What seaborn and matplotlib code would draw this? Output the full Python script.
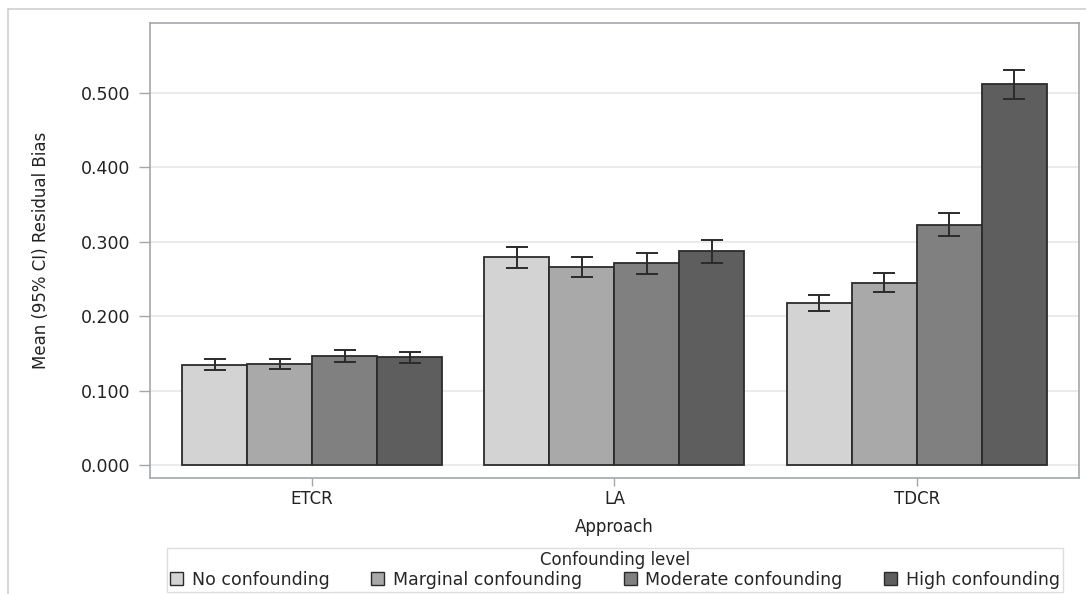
import numpy as np
import pandas as pd
import matplotlib
matplotlib.use('Agg')
import matplotlib.pyplot as plt
import seaborn as sns
from matplotlib.lines import Line2D

# ============================================
# data
# ============================================
APPROACHES = ['ETCR', 'LA', 'TDCR']
LEVELS = ['No confounding', 'Marginal confounding', 'Moderate confounding', 'High confounding']

MEAN_ETCR = [0.135, 0.136, 0.147, 0.145]
MEAN_LA = [0.279, 0.266, 0.271, 0.287]
MEAN_TDCR = [0.218, 0.245, 0.323, 0.512]

LOW_ETCR = [0.128, 0.129, 0.139, 0.137]
LOW_LA = [0.265, 0.253, 0.256, 0.271]
LOW_TDCR = [0.207, 0.232, 0.308, 0.492]

HIGH_ETCR = [0.142, 0.143, 0.154, 0.152]
HIGH_LA = [0.293, 0.280, 0.285, 0.302]
HIGH_TDCR = [0.229, 0.258, 0.338, 0.531]

YTICKS = [0.0, 0.1, 0.2, 0.3, 0.4, 0.5]

BAR_COLORS = ['#d3d3d3', '#a9a9a9', '#808080', '#5e5e5e']
EDGE = '#2b2b2b'
FRAME = '#a3a7ab'

rows = []
for app, means, lows, highs in zip(APPROACHES,
                                   [MEAN_ETCR, MEAN_LA, MEAN_TDCR],
                                   [LOW_ETCR, LOW_LA, LOW_TDCR],
                                   [HIGH_ETCR, HIGH_LA, HIGH_TDCR]):
    for lev, m, lo, hi in zip(LEVELS, means, lows, highs):
        rows.append({'Approach': app, 'Level': lev, 'Mean': m, 'Low': lo, 'High': hi})
df = pd.DataFrame(rows)

# ============================================
# plot
# ============================================
sns.set_theme(style='white')
plt.rcParams['font.family'] = ['DejaVu Sans']

fig = plt.figure(figsize=(10.86, 5.94), dpi=100)
ax = fig.add_axes([0.1381, 0.1953, 0.8554, 0.766])

sns.barplot(data=df, x='Approach', y='Mean', hue='Level', order=APPROACHES,
            hue_order=LEVELS, palette=BAR_COLORS, width=0.86, errorbar=None,
            edgecolor=EDGE, linewidth=1.3, saturation=1, ax=ax, zorder=3)

# error bars at the bar centres that seaborn placed
for container, lev in zip(ax.containers, LEVELS):
    sub = df[df['Level'] == lev].set_index('Approach').loc[APPROACHES]
    xs = [p.get_x() + p.get_width() / 2 for p in container.patches]
    yerr = [sub['Mean'] - sub['Low'], sub['High'] - sub['Mean']]
    ax.errorbar(xs, sub['Mean'], yerr=yerr, fmt='none', ecolor='#2b2b2b',
                elinewidth=1.4, capsize=8, capthick=1.4, zorder=4)

ax.set_xlim(-0.536, 2.536)
ax.set_ylim(-0.0175, 0.594)
ax.set_yticks(YTICKS)
ax.set_yticklabels([f'{v:.3f}' for v in YTICKS])
ax.yaxis.grid(True, color='#e9e9e9', linewidth=1.3, zorder=0)
ax.set_axisbelow(True)

for s in ax.spines.values():
    s.set_color(FRAME)
    s.set_linewidth(1.2)
ax.tick_params(axis='x', bottom=True, colors=FRAME, length=6, width=1,
               labelcolor='#222222', labelsize=12, pad=3)
ax.tick_params(axis='y', left=True, colors=FRAME, length=8, width=1,
               labelcolor='#222222', labelsize=12.5, pad=6)

ax.set_xlabel('Approach', fontsize=12, color='#222222', labelpad=7)
ax.set_ylabel('Mean (95% CI) Residual Bias', fontsize=12, color='#222222', labelpad=22)

# legend below the plot
ax.get_legend().remove()
handles = [plt.Rectangle((0, 0), 1, 1, facecolor=c, edgecolor=EDGE, linewidth=1.0)
           for c in BAR_COLORS]
leg = fig.legend(handles, LEVELS, title='Confounding level', ncol=4,
                 loc='center', bbox_to_anchor=(615 / 1086, 1 - 570 / 594),
                 fontsize=12.5, title_fontsize=12, frameon=True, fancybox=False,
                 handlelength=0.75, handleheight=0.75, handletextpad=0.5,
                 columnspacing=2.4, borderpad=0.2, labelspacing=0.1)
leg.get_frame().set_edgecolor('#d5d5d5')
leg.get_frame().set_linewidth(1.0)

# outer border (top and left edges visible)
fig.add_artist(Line2D([8 / 1086, 1.0], [1 - 9 / 594, 1 - 9 / 594],
                      transform=fig.transFigure, color='#d0d0d0', linewidth=1.2))
fig.add_artist(Line2D([8 / 1086, 8 / 1086], [0.0, 1 - 9 / 594],
                      transform=fig.transFigure, color='#d0d0d0', linewidth=1.2))

fig.savefig('out.png', dpi=100)
